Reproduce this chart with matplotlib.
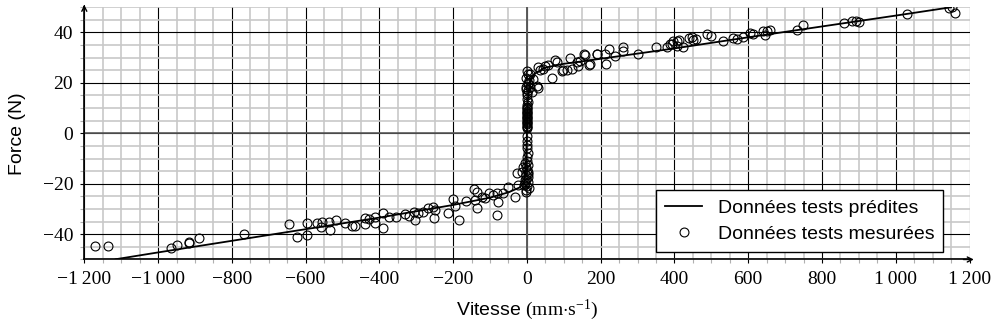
import matplotlib
matplotlib.use("Agg")
import matplotlib.pyplot as plt
from matplotlib.ticker import MultipleLocator, FixedLocator, FixedFormatter

plt.rcParams['mathtext.fontset'] = 'custom'
plt.rcParams['mathtext.rm'] = 'Liberation Serif'
plt.rcParams['mathtext.it'] = 'Liberation Serif:italic'

# Predicted model curve
pred_v = [-1115, -1000, -800, -600, -400, -200, -100, -50, -20, -8, -3, 0,
          3, 8, 20, 50, 100, 200, 400, 600, 800, 1000, 1150]
pred_f = [-49.9, -47.2, -42.6, -38.0, -33.4, -28.4, -25.5, -23.4, -21.5, -19.5, -14.0, 0.0,
          14.0, 20.0, 23.5, 26.0, 27.5, 29.5, 33.6, 38.0, 42.3, 46.6, 49.9]

# Measured test points (negative velocities)
neg_v = [-1171, -1136, -964, -948, -917, -915, -888, -767,
         -645, -624, -597, -595, -570, -559, -555, -536, -533, -518, -494, -475, -466,
         -439, -438, -429, -411, -413, -389, -389, -373, -356, -330,
         -321, -306, -303, -294, -281, -267, -254, -249, -251, -215, -200, -195, -184,
         -165, -143, -134, -141, -134, -123, -114, -102, -93, -82, -79, -80, -64,
         -50, -32, -28, -23, -14, -10, -5, -2, -5]
neg_f = [-44.5, -44.7, -45.3, -44.2, -43.4, -42.9, -41.5, -39.8,
         -36.1, -41.2, -40.4, -35.5, -35.7, -37.2, -35.3, -35.0, -38.2, -34.3, -35.4, -36.6, -36.7,
         -33.7, -35.9, -34.1, -33.0, -35.5, -31.5, -37.6, -33.0, -33.3, -32.1,
         -32.8, -31.1, -34.3, -31.7, -31.1, -29.7, -29.1, -30.4, -33.7, -31.7, -26.1, -28.7, -34.3,
         -26.8, -22.2, -23.4, -26.5, -29.5, -25.1, -25.8, -23.8, -24.5, -23.8, -27.1, -32.4, -23.8,
         -21.4, -25.1, -15.7, -20.5, -15.3, -13.3, -11.8, -23.4, -19.9]

# Measured test points (stack near zero velocity)
zero_v = [0, 3, -2, 5, 2, -3, 4, 1, 0, -1, 2, 0, 0, 0, 0, 0, 0, 0, 0, 0, 0,
          0, 1, -1, 0, 2, -1, 0, 3, -2, 1, 4, -3, 2, -5, 3, -8, 5, -2,
          0, 0, 0, 0, 0, 0, 0, 0, 0, 2, -2, 3, -3, 1]
zero_f = [24.5, 23.5, 22.0, 21.0, 19.5, 18.5, 17.0, 16.0, 15.0, 13.5, 12.5, 11.0, 10.0, 9.0,
          8.0, 7.0, 6.0, 5.0, 4.0, 3.0, 2.0, -1.0, -3.0, -4.5, -6.0, -8.0, -9.5, -11.0,
          -12.5, -13.5, -14.5, -15.5, -16.5, -17.5, -18.5, -19.5, -20.5, -21.5, -22.5,
          10.5, 9.5, 8.5, 7.5, 6.5, 5.5, 4.5, 3.5, 2.5, 20.0, 17.5, -16.0, -18.0, -21.0]

# Measured test points (positive velocities)
pos_v = [8, 17, 27, 8, 13, 31, 31, 36, 44, 49, 58, 67, 76, 81, 94, 99, 108, 117, 121,
         135, 139, 144, 155, 158, 169, 171, 189, 191, 212, 214, 223, 239, 260, 261, 302,
         350, 379, 388, 393, 397, 406, 408, 413, 422, 440, 447, 451, 459, 489, 498, 533,
         560, 569, 587, 605, 614, 641, 646, 652, 659, 733, 748, 860, 881, 892, 901,
         1031, 1145, 1152, 1161]
pos_f = [23.6, 21.6, 18.9, 18.3, 16.3, 18.0, 26.2, 24.9, 25.5, 26.8, 27.2, 22.0, 29.1, 28.1,
         24.6, 24.9, 24.9, 29.9, 25.5, 28.1, 26.5, 28.8, 31.2, 31.1, 27.2, 27.5, 31.2, 31.5,
         31.2, 27.5, 33.4, 30.4, 34.1, 32.5, 31.5,
         34.3, 34.3, 35.4, 35.4, 36.4, 34.7, 36.4, 37.0, 34.1, 37.8, 38.3, 37.0, 37.4, 39.4,
         38.7, 36.4, 37.8, 37.4, 38.0, 39.8, 39.4, 40.4, 39.0, 40.4, 40.9, 40.9, 42.9,
         43.7, 44.6, 44.3, 44.2, 47.3, 49.6, 49.9, 47.5]

x_ticks = [-1200, -1000, -800, -600, -400, -200, 0, 200, 400, 600, 800, 1000, 1200]
x_labels = ['\u22121\u2009200', '\u22121\u2009000', '\u2212800', '\u2212600', '\u2212400',
            '\u2212200', '0', '200', '400', '600', '800', '1\u2009000', '1\u2009200']
y_ticks = [-40, -20, 0, 20, 40]
y_labels = ['\u221240', '\u221220', '0', '20', '40']

meas_v = neg_v + zero_v + pos_v
meas_f = neg_f + zero_f + pos_f

fig = plt.figure(figsize=(10, 3.26), dpi=100)
ax = fig.add_axes([0.0843, 0.204, 0.8852, 0.7745])
ax.set_xlim(-1200, 1200)
ax.set_ylim(-50, 50)

# grid
ax.xaxis.set_minor_locator(MultipleLocator(50))
ax.yaxis.set_minor_locator(MultipleLocator(5))
ax.xaxis.set_major_locator(FixedLocator(x_ticks))
ax.yaxis.set_major_locator(FixedLocator(y_ticks))
ax.xaxis.set_major_formatter(FixedFormatter(x_labels))
ax.yaxis.set_major_formatter(FixedFormatter(y_labels))
ax.grid(which='minor', color='#c8c8c8', linewidth=1.2, zorder=0)
ax.grid(which='major', color='black', linewidth=0.8, zorder=0.5)
ax.set_axisbelow(True)
ax.axvline(0, color='#5a5a5a', linewidth=1.4, zorder=0.6)
ax.axhline(0, color='#5a5a5a', linewidth=1.2, zorder=0.6)

ax.tick_params(which='major', length=3, width=0.8, color='black', pad=5)
ax.tick_params(which='minor', length=3, width=0.8, color='#b0b0b0')
for lab in ax.get_xticklabels() + ax.get_yticklabels():
    lab.set_fontfamily('Liberation Serif')
    lab.set_fontsize(14)

for s in ['top', 'right']:
    ax.spines[s].set_visible(False)
for s in ['left', 'bottom']:
    ax.spines[s].set_linewidth(1.2)
    ax.spines[s].set_zorder(3)

ax.annotate('', xy=(1.008, 0), xytext=(0.99, 0), xycoords='axes fraction',
            arrowprops=dict(arrowstyle='->', color='black', lw=1.0, mutation_scale=9))
ax.annotate('', xy=(0, 1.02), xytext=(0, 0.99), xycoords='axes fraction',
            arrowprops=dict(arrowstyle='->', color='black', lw=1.0, mutation_scale=9))

ax.plot(pred_v, pred_f, color='black', linewidth=1.3, zorder=2,
        label='Données tests prédites')
ax.plot(meas_v, meas_f, linestyle='none', marker='o', markersize=6.4,
        markerfacecolor='none', markeredgecolor='black', markeredgewidth=0.8,
        zorder=2.5, label='Données tests mesurées')

ax.set_ylabel('Force (N)', fontfamily='Liberation Sans', fontsize=14, labelpad=12)
ax.set_xlabel('Vitesse $(\\mathrm{mm{\\cdot}s^{-1}})$', fontfamily='Liberation Sans',
              fontsize=14, labelpad=7)

leg = ax.legend(loc='lower right', bbox_to_anchor=(0.970, 0.030),
                prop={'family': 'Liberation Sans', 'size': 14},
                frameon=True, fancybox=False, framealpha=1, edgecolor='black',
                handlelength=1.9, borderpad=0.45, labelspacing=0.45, handletextpad=0.8,
                borderaxespad=0, numpoints=1)
leg.get_frame().set_linewidth(1.0)
leg.set_zorder(5)

fig.savefig('out.png', dpi=100)
